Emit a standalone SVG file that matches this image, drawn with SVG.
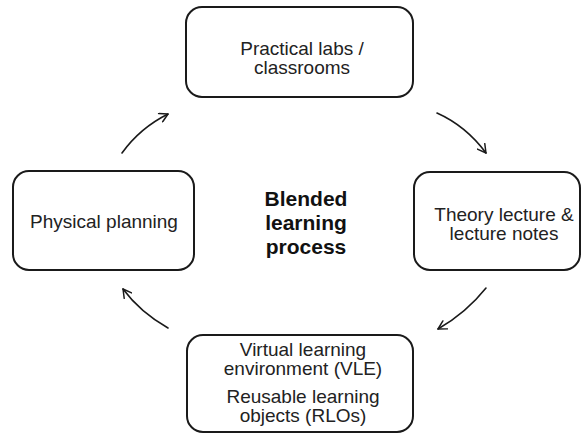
<svg xmlns="http://www.w3.org/2000/svg" width="583" height="434" viewBox="0 0 583 434">
<style>
.box{fill:#fff;stroke:#1a1a1a;stroke-width:2}
.t{font-family:"Liberation Sans",Arial,sans-serif;font-size:19px;fill:#222;text-anchor:middle}
.b{font-family:"Liberation Sans",Arial,sans-serif;font-size:21px;font-weight:bold;fill:#111;text-anchor:middle}
.c{fill:none;stroke:#1a1a1a;stroke-width:1.6;stroke-linecap:round}
</style>
<defs>
<marker id="ah" viewBox="0 0 12 12" refX="10" refY="6" markerWidth="11" markerHeight="11" markerUnits="userSpaceOnUse" orient="auto">
<path d="M1,1 L10,6 L1,11" fill="none" stroke="#1a1a1a" stroke-width="1.6" stroke-linecap="round" stroke-linejoin="round"/>
</marker>
</defs>
<rect width="583" height="434" fill="#fff"/>
<g id="connectors">
<path class="c" d="M122,153 Q140,128 168,114" marker-end="url(#ah)"/>
<path class="c" d="M437,113 Q466,126 486,153" marker-end="url(#ah)"/>
<path class="c" d="M486,288 Q466,313 438,329" marker-end="url(#ah)"/>
<path class="c" d="M168,328 Q140,312 123,289" marker-end="url(#ah)"/>
</g>
<g id="center">
<text class="b" x="306" y="206">Blended</text>
<text class="b" x="306" y="230">learning</text>
<text class="b" x="306" y="254">process</text>
</g>
<g id="node-top">
<rect class="box" x="186" y="7" width="227" height="90" rx="16"/>
<text class="t" x="302" y="55">Practical labs /</text>
<text class="t" x="302" y="74">classrooms</text>
</g>
<g id="node-right">
<rect class="box" x="414" y="172" width="166" height="98" rx="16"/>
<text class="t" x="504" y="221">Theory lecture &amp;</text>
<text class="t" x="504" y="240">lecture notes</text>
</g>
<g id="node-left">
<rect class="box" x="13" y="171" width="181" height="99" rx="16"/>
<text class="t" x="104" y="228">Physical planning</text>
</g>
<g id="node-bottom">
<rect class="box" x="187" y="335" width="226" height="97" rx="16"/>
<text class="t" x="303" y="356">Virtual learning</text>
<text class="t" x="303" y="375">environment (VLE)</text>
<text class="t" x="303" y="403">Reusable learning</text>
<text class="t" x="303" y="422">objects (RLOs)</text>
</g>
</svg>
